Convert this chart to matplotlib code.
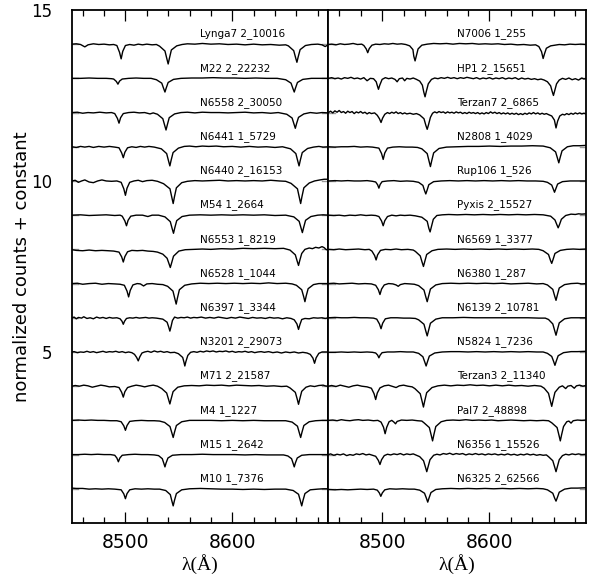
import numpy as np
import matplotlib
matplotlib.use('Agg')
import matplotlib.pyplot as plt
from matplotlib.ticker import MultipleLocator, FixedLocator

# ---------------- spectra (wavelength [A], normalized flux) ----------------

# left column, top to bottom
lynga7 = [(8450,1.00),(8454,1.01),(8458,0.99),(8462,0.92),(8465,0.98),(8470,1.01),(8475,0.99),(8480,1.00),(8485,0.98),(8489,0.99),
          (8492,0.96),(8494.5,0.76),(8496,0.57),(8497.5,0.79),(8500,0.96),
          (8504,0.99),(8508,0.97),(8512,1.00),(8516,0.98),(8520,1.00),(8525,0.98),(8529,0.99),
          (8532,0.94),(8537,0.80),(8538.8,0.57),(8540,0.42),(8541.2,0.59),(8543,0.83),(8548,0.95),
          (8553,0.99),(8558,1.01),(8565,1.00),(8572,1.02),(8580,1.00),(8588,1.01),(8596,0.99),(8604,1.00),(8612,0.98),(8620,1.00),
          (8628,0.98),(8636,0.99),(8644,0.97),(8650,0.98),
          (8652.5,0.95),(8657.5,0.81),(8659.3,0.60),(8660.5,0.47),(8661.7,0.63),(8663.5,0.84),(8668.5,0.96),
          (8674,0.99),(8680,1.00),(8684,0.98),(8687,0.93),(8690,0.99)]

m22 = [(8450,1.00),(8458,1.00),(8466,1.01),(8474,1.00),(8482,1.00),(8487,0.99),
       (8489,0.98),(8491.5,0.91),(8493,0.83),(8494.5,0.92),(8497,0.98),
       (8503,1.00),(8510,1.01),(8517,1.00),(8524,1.00),
       (8529,0.96),(8534,0.86),(8535.8,0.70),(8537,0.60),(8538.2,0.72),(8540,0.88),(8545,0.97),
       (8552,1.00),(8562,1.01),(8572,1.01),(8582,1.02),(8592,1.01),(8602,1.01),(8612,1.00),(8622,1.01),(8632,1.00),(8642,1.00),
       (8650,0.96),(8655,0.86),(8656.8,0.70),(8658,0.60),(8659.2,0.72),(8661,0.88),(8666,0.97),
       (8674,1.00),(8682,1.00),(8690,1.00)]

n6558 = [(8450,1.00),(8455,1.01),(8460,0.98),(8465,1.00),(8470,0.99),(8476,1.01),(8482,0.99),(8487,1.00),
         (8490,0.97),(8492.5,0.83),(8494,0.69),(8495.5,0.85),(8498,0.97),
         (8503,1.00),(8508,1.01),(8513,0.99),(8518,1.00),(8523,0.96),(8526,0.99),
         (8530,0.95),(8535,0.82),(8536.8,0.62),(8538,0.49),(8539.2,0.64),(8541,0.85),(8546,0.96),
         (8552,1.00),(8558,1.01),(8565,0.99),(8572,1.01),(8580,1.00),(8588,1.00),(8596,0.99),(8604,1.00),(8612,1.01),(8620,0.99),
         (8628,1.00),(8636,0.98),(8643,1.00),
         (8651,0.95),(8656,0.84),(8657.8,0.66),(8659,0.54),(8660.2,0.68),(8662,0.86),(8667,0.96),
         (8673,1.00),(8679,0.98),(8684,1.00),(8690,0.99)]

n6441 = [(8450,1.00),(8454,0.98),(8458,1.01),(8462,0.99),(8466,1.01),(8470,0.98),(8475,1.01),(8480,0.99),(8485,1.01),(8490,0.99),
         (8494,0.97),(8496.5,0.82),(8498,0.68),(8499.5,0.84),(8502,0.97),
         (8506,1.00),(8510,0.98),(8514,1.01),(8518,0.99),(8522,1.01),(8527,0.99),
         (8533.6,0.94),(8538.6,0.80),(8540.4,0.58),(8541.6,0.44),(8542.8,0.61),(8544.6,0.83),(8549.6,0.96),
         (8555,1.01),(8560,1.02),(8566,1.00),(8572,1.02),(8578,1.01),(8585,1.02),(8592,1.00),(8600,1.01),(8608,0.99),(8616,1.01),
         (8624,0.99),(8632,1.00),(8640,0.98),(8647,1.00),
         (8654.5,0.94),(8659.5,0.80),(8661.3,0.58),(8662.5,0.44),(8663.7,0.61),(8665.5,0.83),(8670.5,0.95),
         (8676,0.99),(8681,1.01),(8685,0.99),(8690,1.00)]

n6440 = [(8450,1.00),(8453,1.02),(8456,0.96),(8459,1.00),(8462,1.03),(8466,0.97),(8470,0.95),(8474,1.00),(8478,1.03),(8482,1.00),
         (8487,0.99),(8492,1.00),
         (8496,0.96),(8498.5,0.77),(8500,0.58),(8501.5,0.79),(8504,0.96),
         (8508,1.00),(8512,1.02),(8516,0.98),(8520,1.01),(8525,1.02),(8530,0.99),
         (8535.7,0.92),(8541.7,0.77),(8543.5,0.51),(8544.7,0.34),(8545.9,0.54),(8547.7,0.80),(8552.7,0.95),
         (8558,0.99),(8565,1.01),(8572,1.00),(8580,1.01),(8588,1.02),(8596,1.00),(8604,1.01),(8612,1.00),(8620,1.01),(8628,1.00),
         (8636,1.02),(8644,1.00),(8650,0.99),
         (8655,0.93),(8661,0.77),(8662.8,0.51),(8664,0.34),(8665.2,0.54),(8667,0.80),(8672,0.94),
         (8677,1.00),(8682,1.03),(8686,1.05),(8690,1.05)]

m54 = [(8450,1.00),(8458,1.01),(8466,0.99),(8474,1.00),(8482,1.01),(8490,0.99),(8495,1.00),
       (8497,0.97),(8499.5,0.83),(8501,0.69),(8502.5,0.85),(8505,0.97),
       (8510,1.00),(8516,1.00),(8521,0.96),(8525,1.00),(8531,1.00),
       (8537,0.95),(8542,0.81),(8543.8,0.60),(8545,0.47),(8546.2,0.63),(8548,0.84),(8553,0.96),
       (8560,1.00),(8570,1.01),(8580,1.00),(8590,1.01),(8600,1.00),(8610,1.01),(8620,1.00),(8630,1.01),(8640,0.99),(8650,1.00),
       (8657.6,0.95),(8662.6,0.82),(8664.4,0.62),(8665.6,0.49),(8666.8,0.64),(8668.6,0.85),(8673.6,0.96),
       (8680,1.00),(8685,1.01),(8690,1.00)]

n6553 = [(8450,0.99),(8454,0.97),(8460,0.96),(8466,0.98),(8472,0.96),(8478,0.97),(8484,0.96),(8489,0.95),
         (8494,0.92),(8496.5,0.78),(8498,0.63),(8499.5,0.79),(8502,0.93),
         (8506,0.97),(8511,0.96),(8516,0.97),(8521,0.95),(8526,0.94),(8530,0.92),
         (8535,0.86),(8539,0.74),(8540.8,0.58),(8542,0.47),(8543.2,0.60),(8545,0.80),(8550,0.95),
         (8556,0.99),(8564,1.00),(8572,1.01),(8580,1.00),(8590,1.02),(8600,1.01),(8610,1.03),(8620,1.02),(8630,1.03),(8640,1.02),(8648,1.03),
         (8654,0.98),(8659,0.84),(8660.8,0.65),(8662,0.53),(8663.2,0.68),(8665,0.88),(8668,1.00),
         (8672,1.04),(8675,1.02),(8678,1.06),(8681,1.04),(8684,1.08),(8686,1.05),(8688,0.99),(8690,0.99)]

n6528 = [(8450,1.00),(8455,1.01),(8460,0.98),(8466,1.00),(8472,1.01),(8478,0.98),(8484,1.00),(8490,0.99),(8495,0.98),
         (8499,0.95),(8501.5,0.78),(8503,0.61),(8504.5,0.80),(8507,0.96),
         (8511,1.00),(8514,0.99),(8517,0.93),(8520,0.99),(8525,1.00),(8530,0.98),(8535,0.97),
         (8539.5,0.92),(8544.5,0.78),(8546.3,0.55),(8547.5,0.40),(8548.7,0.58),(8550.5,0.82),(8555.5,0.95),
         (8562,0.99),(8570,1.01),(8578,1.00),(8586,1.01),(8594,1.00),(8602,1.01),(8610,1.00),(8618,1.01),(8626,1.00),(8634,1.02),
         (8642,1.00),(8650,1.01),(8656,0.99),
         (8660,0.95),(8665,0.82),(8666.8,0.62),(8668,0.47),(8669.2,0.64),(8671,0.85),(8676,0.97),
         (8681,1.00),(8686,1.00),(8690,1.00)]

n6397 = [(8450,1.00),(8452,1.02),(8454,0.97),(8456,1.01),(8459,0.99),(8461,1.03),(8464,0.98),(8467,1.00),(8470,0.97),(8473,1.02),
         (8476,0.99),(8479,1.01),(8482,0.98),(8485,1.01),(8488,0.99),(8492,1.00),
         (8495,0.97),(8496.8,0.90),(8498,0.81),(8499.2,0.90),(8501,0.98),
         (8504,1.00),(8507,0.99),(8510,1.01),(8513,0.99),(8516,1.00),(8519,1.01),(8522,0.99),(8525,1.00),(8529,0.99),
         (8535,0.96),(8539,0.87),(8540.6,0.72),(8541.6,0.61),(8542.6,0.73),(8544,0.92),(8546,1.02),
         (8549,0.99),(8552,1.01),(8555,1.00),(8558,1.02),(8561,0.99),(8564,1.01),(8567,1.00),(8571,1.02),(8575,0.99),(8579,1.01),
         (8583,0.99),(8587,1.02),(8591,1.00),(8595,0.98),(8599,1.01),(8603,0.99),(8607,1.02),(8611,1.00),(8615,0.98),(8619,1.01),
         (8623,0.99),(8627,1.00),(8631,0.98),(8635,1.01),(8639,0.99),(8643,1.00),(8647,0.97),(8651,1.00),(8655,0.98),
         (8658,0.94),(8660.5,0.82),(8662,0.66),(8663.3,0.80),(8665,0.95),
         (8668,0.98),(8672,0.97),(8676,1.00),(8680,0.99),(8684,1.00),(8687,0.98),(8690,1.00)]

n3201 = [(8450,1.00),(8452,1.01),(8455,0.98),(8458,1.00),(8461,0.99),(8464,1.02),(8467,0.99),(8470,1.01),(8473,0.98),(8476,1.00),
         (8479,1.02),(8482,0.99),(8485,1.01),(8488,1.00),(8491,1.02),(8494,0.99),(8497,1.01),(8500,0.98),(8503,1.00),(8506,0.98),
         (8508.5,0.93),(8510.5,0.84),(8512,0.74),(8513.5,0.86),(8515.5,0.97),
         (8518,1.00),(8521,1.02),(8524,0.99),(8527,1.03),(8530,1.00),(8533,1.02),(8536,0.99),(8539,1.01),(8542,0.98),(8546,0.99),
         (8549.6,0.95),(8553.6,0.84),(8554.8,0.70),(8555.6,0.59),(8556.6,0.72),(8558.4,0.90),(8561,0.99),
         (8564,1.01),(8567,0.99),(8570,1.02),(8573,1.00),(8576,1.03),(8579,1.01),(8582,1.03),(8585,1.00),(8588,1.02),(8591,1.01),
         (8594,1.03),(8597,1.00),(8600,1.02),(8603,0.99),(8606,1.01),(8609,1.00),(8612,1.02),(8615,0.99),(8618,1.01),(8621,0.98),
         (8624,1.00),(8627,1.01),(8630,0.99),(8634,1.01),(8638,0.98),(8642,1.00),(8646,0.97),(8650,1.00),(8654,0.98),(8658,1.00),
         (8662,0.97),(8666,0.99),(8670,0.97),
         (8673,0.93),(8675.5,0.82),(8677,0.67),(8678.5,0.83),(8681,0.96),
         (8684,1.00),(8687,1.00),(8690,1.00)]

m71 = [(8450,1.00),(8453,1.02),(8457,1.00),(8461,1.03),(8465,1.01),(8469,0.97),(8473,1.00),(8477,1.03),(8481,1.01),(8485,0.98),(8490,0.99),
       (8494,0.96),(8496.5,0.82),(8498,0.68),(8499.5,0.84),(8502,0.96),
       (8506,1.00),(8510,1.03),(8514,1.01),(8518,0.98),(8522,1.01),(8526,1.03),(8530,1.00),
       (8534,0.93),(8538.6,0.80),(8540.4,0.61),(8541.6,0.48),(8542.8,0.63),(8544.6,0.84),(8549,0.97),
       (8555,1.01),(8562,1.02),(8569,1.01),(8576,1.03),(8583,1.02),(8590,1.03),(8597,1.01),(8604,1.03),(8611,1.02),(8618,1.01),
       (8625,1.02),(8632,1.00),(8639,1.01),(8646,0.99),(8651,1.00),
       (8654,0.95),(8659,0.82),(8660.8,0.62),(8662,0.47),(8663.2,0.63),(8665,0.85),(8669,0.97),
       (8673,1.01),(8677,0.99),(8681,1.02),(8685,1.03),(8688,1.00),(8690,1.02)]

m4 = [(8450,1.00),(8456,1.01),(8462,1.00),(8468,1.01),(8474,1.00),(8480,1.00),(8486,0.99),(8492,0.99),
      (8496,0.96),(8498.5,0.84),(8500,0.71),(8501.5,0.85),(8504,0.97),
      (8509,0.99),(8515,1.00),(8521,0.99),(8527,0.99),(8532,0.98),
      (8536.7,0.94),(8541.7,0.82),(8543.5,0.63),(8544.7,0.50),(8545.9,0.65),(8547.7,0.85),(8552.7,0.96),
      (8560,1.00),(8570,1.00),(8580,1.00),(8590,0.99),(8600,1.00),(8610,0.99),(8620,1.00),(8630,0.99),(8640,0.99),(8650,0.99),
      (8656,0.95),(8661,0.83),(8662.8,0.63),(8664,0.50),(8665.2,0.65),(8667,0.85),(8672,0.96),
      (8678,0.99),(8684,1.00),(8690,1.00)]

m15 = [(8450,1.00),(8456,1.00),(8462,1.01),(8468,1.00),(8474,1.01),(8480,1.00),(8486,1.00),
       (8490,0.98),(8492,0.90),(8493.4,0.79),(8494.8,0.90),(8497,0.98),
       (8503,1.00),(8509,1.01),(8515,1.00),(8521,1.00),(8527,0.99),
       (8531,0.97),(8534.5,0.88),(8536,0.74),(8537,0.64),(8538,0.75),(8539.8,0.90),(8544,0.98),
       (8552,1.00),(8562,1.00),(8572,1.01),(8582,1.00),(8592,1.00),(8602,1.00),(8612,0.99),(8622,1.00),(8632,0.99),(8642,0.99),(8648,0.99),
       (8652,0.96),(8655.5,0.88),(8657,0.74),(8658,0.64),(8659,0.75),(8660.8,0.90),(8665,0.98),
       (8672,1.00),(8680,1.00),(8686,1.00),(8690,1.00)]

m10 = [(8450,1.02),(8454,1.01),(8460,1.01),(8466,0.99),(8472,1.00),(8478,0.99),(8484,1.00),(8490,0.99),
       (8496,0.97),(8498.5,0.85),(8500,0.71),(8501.5,0.86),(8504,0.97),
       (8509,1.00),(8515,0.99),(8521,1.00),(8527,0.99),(8532,0.99),
       (8537.7,0.95),(8542,0.83),(8543.5,0.64),(8544.7,0.50),(8545.9,0.66),(8547.7,0.86),(8552.7,0.97),
       (8560,1.00),(8570,1.01),(8580,1.00),(8590,0.99),(8600,0.99),(8610,0.98),(8620,0.99),(8630,0.98),(8640,0.99),(8650,0.99),
       (8657,0.95),(8662,0.84),(8663.8,0.64),(8665,0.50),(8666.2,0.66),(8668,0.86),(8673,0.97),
       (8680,0.99),(8685,1.00),(8690,1.00)]

# right column, top to bottom
n7006 = [(8450,0.99),(8453,1.00),(8457,0.98),(8461,1.01),(8465,0.99),(8469,1.00),(8473,1.02),(8477,0.99),(8481,1.00),
         (8483,0.96),(8485.2,0.86),(8486.6,0.75),(8488,0.87),(8490.5,0.97),
         (8494,1.00),(8498,0.99),(8502,1.01),(8506,1.00),(8510,1.02),(8514,1.00),(8518,1.01),(8522,0.99),
         (8525.7,0.95),(8528.7,0.84),(8529.5,0.65),(8530.7,0.51),(8531.9,0.66),(8533.5,0.86),(8537,0.97),
         (8542,1.00),(8548,1.02),(8554,1.01),(8560,1.02),(8566,1.00),(8572,1.02),(8578,1.01),(8584,1.02),(8590,1.00),(8596,1.01),
         (8602,1.00),(8608,1.01),(8614,0.99),(8620,1.00),(8626,0.98),(8632,0.99),(8638,0.97),(8643,0.98),
         (8646,0.93),(8648.5,0.78),(8650,0.58),(8651.3,0.72),(8653,0.88),(8657,0.95),
         (8661,0.97),(8665,0.99),(8670,0.98),(8675,1.00),(8680,0.99),(8685,1.00),(8690,0.99)]

hp1 = [(8450,1.00),(8453,1.02),(8456,0.99),(8459,1.01),(8462,0.98),(8465,1.02),(8468,1.00),(8471,1.03),(8474,0.99),(8477,1.01),
       (8480,0.98),(8483,1.02),(8486,0.93),(8489,1.00),(8492,0.99),
       (8494.5,0.90),(8495.6,0.78),(8496.6,0.68),(8497.8,0.80),(8500,0.97),
       (8503,1.02),(8506,0.99),(8509,1.01),(8512,0.97),(8514,0.90),(8516,0.99),(8519,1.01),(8521,0.93),(8523,1.00),(8526,0.98),
       (8529,1.01),(8532,0.97),
       (8535,0.92),(8537.5,0.80),(8538.8,0.60),(8540,0.46),(8541.2,0.62),(8543,0.84),(8546,0.97),
       (8549,1.01),(8552,0.99),(8555,1.02),(8558,1.00),(8561,1.03),(8564,1.00),(8567,1.02),(8570,0.99),(8573,1.02),(8576,1.00),
       (8579,1.03),(8582,1.01),(8585,0.99),(8588,1.02),(8591,0.98),(8594,1.01),(8597,0.99),(8600,1.02),(8603,0.98),(8606,1.01),
       (8609,0.99),(8612,1.02),(8615,0.98),(8618,1.01),(8621,0.99),(8624,1.02),(8627,0.97),(8630,1.01),(8633,0.98),(8636,1.00),
       (8639,0.97),(8642,0.99),(8645,0.96),(8648,0.98),(8651,0.95),
       (8654,0.90),(8657,0.78),(8658.4,0.62),(8659.6,0.50),(8660.8,0.64),(8662.5,0.84),(8665,0.95),
       (8668,1.00),(8671,0.97),(8674,1.01),(8677,0.96),(8680,0.99),(8683,0.95),(8686,1.01),(8688,0.98),(8690,1.00)]

terzan7 = [(8450,1.00),(8452,1.04),(8454,0.99),(8456,1.05),(8458,1.01),(8460,1.06),(8462,1.00),(8464,1.03),(8466,0.98),(8468,1.04),
           (8470,1.00),(8472,1.03),(8474,0.97),(8476,1.02),(8478,0.99),(8480,1.03),(8482,0.98),(8484,1.01),(8486,0.96),(8488,1.00),
           (8490,0.97),(8493,0.99),
           (8495.5,0.92),(8497.5,0.82),(8499,0.71),(8500.5,0.84),(8502.5,0.95),
           (8505,1.00),(8507,0.97),(8509,1.01),(8511,0.98),(8513,1.02),(8515,0.97),(8517,1.00),(8519,0.96),(8521,0.99),(8523,0.96),
           (8526,0.98),(8529,0.95),(8532,0.97),
           (8535,0.93),(8539,0.82),(8540.8,0.62),(8542,0.51),(8543.2,0.64),(8545,0.86),(8547,0.98),
           (8549,1.02),(8551,0.99),(8553,1.03),(8555,1.00),(8557,1.02),(8559,0.98),(8561,1.02),(8563,0.99),(8565,1.01),(8567,0.98),
           (8569,1.02),(8571,0.99),(8573,1.01),(8575,0.97),(8577,1.00),(8579,0.97),(8581,1.01),(8583,0.98),(8585,1.00),(8587,0.97),
           (8589,1.00),(8591,0.96),(8593,0.99),(8595,0.96),(8597,1.00),(8599,0.97),(8601,1.02),(8603,0.98),(8605,1.01),(8607,0.97),
           (8609,1.00),(8611,0.96),(8613,0.99),(8615,0.96),(8617,0.99),(8619,0.95),(8621,0.98),(8623,0.95),(8625,0.98),(8627,0.94),
           (8629,0.97),(8631,0.94),(8633,0.98),(8635,0.95),(8637,0.99),(8639,0.96),(8641,1.00),(8643,0.96),(8645,0.99),(8647,0.95),
           (8649,0.98),(8651,0.95),(8653,0.97),(8655,0.94),
           (8658,0.90),(8660.5,0.78),(8662,0.55),(8663.5,0.75),(8665.5,0.90),
           (8668,0.95),(8670,0.93),(8672,0.97),(8674,0.94),(8676,0.98),(8678,0.95),(8680,0.99),(8682,0.96),(8684,0.99),(8686,0.96),
           (8688,0.98),(8690,0.96)]

n2808 = [(8450,1.00),(8456,0.99),(8462,1.00),(8468,1.00),(8474,1.01),(8480,0.99),(8486,1.00),(8491,0.99),
         (8497,0.96),(8499.5,0.80),(8501,0.63),(8502.5,0.82),(8505,0.96),
         (8510,0.99),(8516,1.00),(8522,0.99),(8528,0.99),(8533,0.98),
         (8537,0.94),(8542,0.80),(8543.8,0.57),(8545,0.42),(8546.2,0.59),(8548,0.82),(8553,0.95),
         (8560,0.99),(8570,1.00),(8580,1.01),(8590,1.01),(8600,1.02),(8610,1.01),(8620,1.02),(8630,1.02),(8640,1.03),(8650,1.02),
         (8656.6,0.97),(8661.6,0.85),(8663.4,0.66),(8664.6,0.53),(8665.8,0.68),(8667.6,0.88),(8672.6,1.00),
         (8678,1.03),(8684,1.03),(8690,1.04)]

rup106 = [(8450,1.00),(8456,1.01),(8462,1.00),(8468,1.01),(8474,1.00),(8480,1.00),(8486,1.01),(8491,0.99),
          (8494,0.97),(8495.8,0.89),(8497,0.79),(8498.2,0.90),(8500,0.98),
          (8505,1.00),(8511,1.01),(8517,0.99),(8523,1.00),(8529,0.99),
          (8534,0.96),(8538,0.87),(8539.5,0.72),(8540.7,0.62),(8541.9,0.73),(8543.5,0.89),(8548,0.98),
          (8555,1.00),(8563,1.01),(8571,1.00),(8579,1.01),(8587,1.00),(8595,1.01),(8603,1.00),(8611,1.01),(8619,1.00),(8627,1.01),
          (8635,1.00),(8643,1.00),(8650,0.99),
          (8654,0.96),(8658,0.88),(8659.5,0.76),(8660.6,0.67),(8661.8,0.77),(8663.5,0.91),(8668,0.98),
          (8675,1.00),(8682,1.00),(8690,1.00)]

pyxis = [(8450,1.00),(8455,0.99),(8460,1.00),(8465,0.98),(8470,1.00),(8475,0.99),(8480,1.01),(8485,0.99),(8490,1.00),(8494,0.99),
         (8497,0.96),(8499.5,0.83),(8501,0.69),(8502.5,0.84),(8505,0.96),
         (8509,1.00),(8513,0.98),(8517,1.00),(8521,0.99),(8526,1.00),(8531,0.98),
         (8537,0.94),(8542,0.82),(8543.5,0.62),(8544.7,0.51),(8545.9,0.66),(8547.7,0.88),(8551,0.99),
         (8556,1.01),(8562,1.02),(8570,1.01),(8578,1.02),(8586,1.01),(8594,1.02),(8602,1.01),(8610,1.02),(8618,1.01),(8626,1.02),
         (8634,1.01),(8642,1.02),(8650,1.01),
         (8657,0.97),(8661,0.86),(8662.8,0.72),(8664,0.63),(8665.2,0.72),(8667,0.88),(8671,0.99),
         (8676,1.03),(8680,1.02),(8683,1.04),(8686,1.03),(8690,1.04)]

n6569 = [(8450,1.00),(8455,0.99),(8460,1.01),(8466,0.99),(8472,1.00),(8478,1.01),(8484,0.99),(8488,1.00),
         (8490.5,0.95),(8493,0.82),(8494.4,0.69),(8495.8,0.84),(8498.5,0.97),
         (8503,1.00),(8508,0.99),(8513,1.01),(8518,0.99),(8524,1.00),(8529,0.98),
         (8531,0.94),(8535.5,0.81),(8537.3,0.62),(8538.5,0.50),(8539.7,0.64),(8541.5,0.85),(8546.5,0.96),
         (8552,1.00),(8560,1.01),(8568,1.00),(8576,1.01),(8584,1.00),(8592,1.01),(8600,1.00),(8608,1.01),(8616,1.00),(8624,1.01),
         (8632,1.00),(8640,1.01),(8646,1.00),
         (8650,0.96),(8655,0.85),(8656.8,0.68),(8658,0.59),(8659.2,0.70),(8661,0.88),(8666,0.97),
         (8672,1.00),(8678,1.01),(8684,1.00),(8690,1.01)]

n6380 = [(8450,1.00),(8455,1.01),(8460,0.99),(8466,1.00),(8472,1.01),(8478,0.99),(8484,1.00),(8490,0.99),
         (8494,0.95),(8496.5,0.82),(8498,0.68),(8499.5,0.84),(8502,0.96),
         (8506,1.00),(8510,0.99),(8513,0.96),(8515,0.92),(8517,0.97),(8521,1.00),(8526,0.99),(8530,0.98),
         (8534,0.94),(8539,0.81),(8540.8,0.60),(8542,0.47),(8543.2,0.62),(8545,0.84),(8550,0.96),
         (8556,1.00),(8564,1.01),(8572,1.00),(8580,1.01),(8588,1.00),(8596,1.01),(8604,1.00),(8612,1.01),(8620,0.99),(8628,1.00),
         (8636,1.01),(8644,0.99),(8650,1.00),
         (8654,0.96),(8659,0.83),(8660.8,0.63),(8662,0.51),(8663.2,0.66),(8665,0.87),(8670,0.97),
         (8676,1.00),(8682,1.01),(8686,0.99),(8690,1.00)]

n6139 = [(8450,1.00),(8456,1.01),(8462,1.00),(8468,1.00),(8474,1.01),(8480,1.00),(8486,1.00),(8492,0.99),
         (8495,0.96),(8497.5,0.82),(8499,0.68),(8500.5,0.84),(8503,0.97),
         (8508,1.00),(8514,1.00),(8520,0.99),(8526,0.99),(8531,0.98),
         (8534,0.94),(8539,0.81),(8540.8,0.60),(8542,0.47),(8543.2,0.62),(8545,0.84),(8550,0.96),
         (8556,1.00),(8566,1.00),(8576,1.01),(8586,1.00),(8596,1.00),(8606,1.00),(8616,1.00),(8626,1.00),(8636,1.00),(8646,0.99),
         (8652,0.99),
         (8655,0.95),(8659,0.82),(8660.8,0.62),(8662,0.49),(8663.2,0.64),(8665,0.85),(8670,0.97),
         (8676,1.00),(8682,1.00),(8690,1.00)]

n5824 = [(8450,0.99),(8456,0.99),(8462,1.00),(8468,0.99),(8474,1.00),(8480,0.99),(8486,1.00),(8491,0.99),
         (8494,0.97),(8495.8,0.91),(8497,0.83),(8498.2,0.91),(8500,0.98),
         (8505,1.00),(8511,1.00),(8517,1.01),(8523,1.00),(8529,1.00),
         (8534,0.96),(8538,0.86),(8539.8,0.70),(8541,0.59),(8542.2,0.71),(8544,0.88),(8549,0.97),
         (8556,1.00),(8564,1.01),(8572,1.01),(8580,1.00),(8588,1.01),(8596,1.00),(8604,1.01),(8612,1.00),(8620,1.01),(8628,1.00),
         (8636,1.01),(8644,1.00),(8650,1.00),
         (8654,0.96),(8658,0.87),(8659.8,0.72),(8661,0.61),(8662.2,0.73),(8664,0.89),(8669,0.98),
         (8676,1.01),(8682,1.01),(8690,1.02)]

terzan3 = [(8450,1.00),(8453,1.02),(8457,0.99),(8461,1.03),(8465,1.00),(8469,0.97),(8473,1.01),(8477,1.03),(8481,1.00),(8486,0.98),
           (8490,0.94),(8492.5,0.78),(8494,0.61),(8495.5,0.80),(8498,0.95),
           (8502,1.01),(8506,1.03),(8510,0.99),(8513,0.96),(8516,1.01),(8520,1.03),(8524,1.00),(8528,0.98),
           (8530.5,0.93),(8535.5,0.78),(8537.3,0.55),(8538.5,0.39),(8539.7,0.57),(8541.5,0.81),(8546.5,0.96),
           (8552,1.01),(8558,1.03),(8564,1.01),(8570,1.03),(8576,1.02),(8582,1.04),(8588,1.02),(8594,1.03),(8600,1.01),(8606,1.03),
           (8612,1.01),(8618,1.03),(8624,1.01),(8630,1.02),(8636,1.00),(8642,1.02),(8648,1.00),
           (8651,0.94),(8655,0.79),(8656.8,0.56),(8658,0.41),(8659.2,0.58),(8661,0.82),(8665,0.97),
           (8668,1.01),(8671,0.93),(8673,1.00),(8676,1.02),(8679,0.94),(8681,1.01),(8684,1.03),(8687,1.00),(8690,1.02)]

pal7 = [(8450,1.00),(8454,1.01),(8458,0.99),(8462,1.02),(8466,1.00),(8470,0.99),(8474,1.01),(8478,1.02),(8482,1.00),(8487,1.01),
        (8492,0.99),(8496,1.00),
        (8499,0.95),(8501.3,0.80),(8502.8,0.61),(8504.3,0.80),(8506.5,0.96),
        (8509,1.00),(8511,0.95),(8512.5,0.90),(8514,0.97),(8518,1.01),(8523,1.00),(8528,1.01),(8533,0.99),(8537,0.98),
        (8539,0.93),(8544,0.79),(8545.8,0.56),(8547,0.40),(8548.2,0.58),(8550,0.82),(8555,0.96),
        (8560,1.00),(8566,1.01),(8572,1.00),(8578,1.02),(8584,1.00),(8590,1.01),(8596,1.00),(8602,1.01),(8608,0.99),(8614,1.00),
        (8620,1.01),(8626,1.00),(8632,0.99),(8638,1.00),(8644,0.99),(8650,1.00),(8655,0.99),
        (8658,0.93),(8663,0.79),(8664.8,0.56),(8666,0.40),(8667.2,0.58),(8669,0.82),(8672,0.96),
        (8674,0.98),(8676,0.92),(8678,0.99),(8682,1.01),(8686,1.00),(8690,1.01)]

n6356 = [(8450,1.00),(8452,1.02),(8455,0.98),(8458,1.01),(8461,0.99),(8464,1.02),(8467,0.97),(8470,1.00),(8473,0.98),(8476,1.02),
         (8479,1.00),(8482,1.03),(8485,0.99),(8488,1.01),(8491,0.98),
         (8494,0.95),(8496.5,0.83),(8498,0.71),(8499.5,0.85),(8502,0.97),
         (8505,1.01),(8508,0.99),(8511,1.02),(8514,1.00),(8517,1.03),(8520,0.99),(8523,1.02),(8526,1.00),(8529,1.02),(8532,0.98),
         (8535,0.94),(8538.6,0.82),(8540.4,0.63),(8541.6,0.50),(8542.8,0.64),(8544.6,0.85),(8548,0.98),
         (8551,1.01),(8554,0.99),(8557,1.03),(8560,1.01),(8563,1.04),(8566,1.00),(8569,1.03),(8572,1.01),(8575,1.03),(8578,0.99),
         (8581,1.02),(8584,1.00),(8587,1.03),(8590,1.00),(8593,1.02),(8596,0.99),(8599,1.02),(8602,1.00),(8605,1.02),(8608,0.99),
         (8611,1.01),(8614,0.99),(8617,1.02),(8620,0.99),(8623,1.01),(8626,0.98),(8629,1.01),(8632,0.99),(8635,1.02),(8638,0.99),
         (8641,1.01),(8644,0.98),(8647,1.00),(8650,0.98),(8653,0.99),
         (8655,0.94),(8659,0.82),(8660.8,0.63),(8662,0.50),(8663.2,0.64),(8665,0.85),(8668,0.97),
         (8671,1.01),(8674,0.99),(8677,1.02),(8680,1.00),(8683,1.02),(8686,1.00),(8690,1.01)]

n6325 = [(8450,0.98),(8456,0.97),(8462,0.98),(8468,0.97),(8474,0.98),(8480,0.99),(8486,0.98),(8492,0.99),
         (8495.5,0.96),(8497.4,0.88),(8498.8,0.78),(8500.2,0.88),(8502.5,0.97),
         (8507,1.00),(8513,0.99),(8519,1.00),(8525,0.99),(8530,0.99),
         (8535,0.96),(8539.5,0.87),(8541.3,0.72),(8542.5,0.61),(8543.7,0.73),(8545.5,0.89),(8550,0.98),
         (8556,1.00),(8564,1.01),(8572,1.00),(8580,1.01),(8588,1.00),(8596,1.01),(8604,1.00),(8612,1.01),(8620,1.00),(8628,1.01),
         (8636,1.00),(8644,1.01),(8650,1.00),
         (8654,0.97),(8659,0.87),(8660.8,0.72),(8662,0.64),(8663.2,0.74),(8665,0.90),(8670,0.99),
         (8676,1.02),(8682,1.02),(8690,1.03)]

left_labels = ['Lynga7 2_10016', 'M22 2_22232', 'N6558 2_30050', 'N6441 1_5729', 'N6440 2_16153',
               'M54 1_2664', 'N6553 1_8219', 'N6528 1_1044', 'N6397 1_3344', 'N3201 2_29073',
               'M71 2_21587', 'M4 1_1227', 'M15 1_2642', 'M10 1_7376']
left_spectra = [lynga7, m22, n6558, n6441, n6440, m54, n6553, n6528, n6397, n3201, m71, m4, m15, m10]

right_labels = ['N7006 1_255', 'HP1 2_15651', 'Terzan7 2_6865', 'N2808 1_4029', 'Rup106 1_526',
                'Pyxis 2_15527', 'N6569 1_3377', 'N6380 1_287', 'N6139 2_10781', 'N5824 1_7236',
                'Terzan3 2_11340', 'Pal7 2_48898', 'N6356 1_15526', 'N6325 2_62566']
right_spectra = [n7006, hp1, terzan7, n2808, rup106, pyxis, n6569, n6380, n6139, n5824, terzan3, pal7, n6356, n6325]

# ---------------- figure ----------------
fig = plt.figure(figsize=(5.95, 5.85), dpi=100)
ax1 = fig.add_axes([0.121, 0.106, 0.431, 0.877])
ax2 = fig.add_axes([0.552, 0.106, 0.433, 0.877])

def draw_panel(ax, spectra, labels):
    n = len(spectra)
    for i, (spec, lab) in enumerate(zip(spectra, labels)):
        off = n - 1 - i
        wl = np.array([p[0] for p in spec])
        fl = np.array([p[1] for p in spec])
        # short grey marks at the continuum level on both edges
        ax.plot([8450, 8456], [off + 1, off + 1], color='0.6', lw=1.0)
        ax.plot([8684, 8690], [off + 1, off + 1], color='0.6', lw=1.0)
        ax.plot(wl, fl + off, color='black', lw=1.0)
        ax.text(8570, off + 1.3, lab, fontsize=7.5, ha='left', va='center')

    ax.set_xlim(8450, 8690)
    ax.set_ylim(0, 15)
    ax.xaxis.set_major_locator(FixedLocator([8500, 8600]))
    ax.xaxis.set_minor_locator(MultipleLocator(20))
    ax.tick_params(axis='x', which='both', direction='in', top=True, bottom=True)
    ax.tick_params(axis='x', which='major', length=8, width=0.9, labelsize=13.5, pad=7)
    ax.tick_params(axis='x', which='minor', length=4.5, width=0.9)
    ax.set_xlabel('λ(Å)', fontsize=14, family='Liberation Serif', labelpad=2)
    for s in ax.spines.values():
        s.set_linewidth(1.3)

draw_panel(ax1, left_spectra, left_labels)
draw_panel(ax2, right_spectra, right_labels)

ax1.set_yticks([5, 10, 15])
ax1.tick_params(axis='y', length=0, labelsize=12, pad=14)
ax1.set_ylabel('normalized counts + constant', fontsize=13, labelpad=0)
ax2.set_yticks([])

plt.savefig('out.png', dpi=100)
